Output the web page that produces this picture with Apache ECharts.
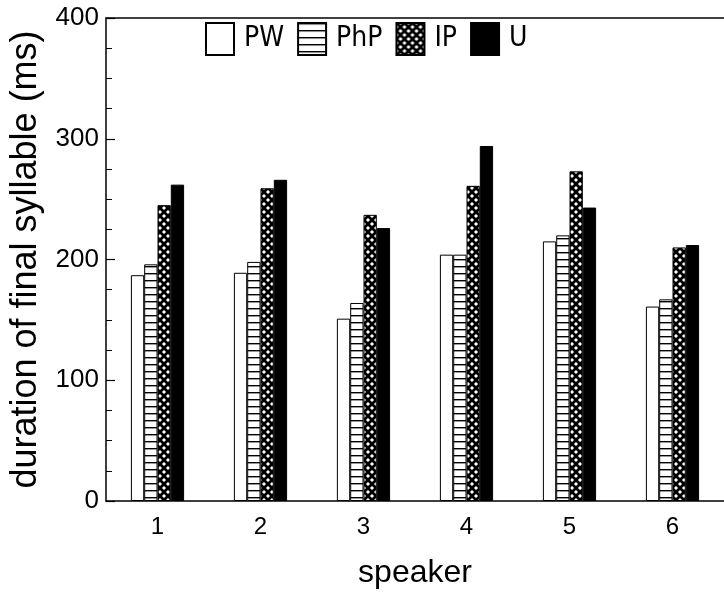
<!DOCTYPE html>
<html>
<head>
<meta charset="utf-8">
<title>duration of final syllable</title>
<script src="https://cdn.jsdelivr.net/npm/echarts@6/dist/echarts.min.js"></script>
<style>
    html, body { margin: 0; padding: 0; background: #fff; }
    #bar_show { width: 724px; height: 596px; }
</style>
</head>
<body>
<div id="bar_show"></div>
<script>
// 数据
var speakers = ['1', '2', '3', '4', '5', '6'];
var pwData = [187, 189, 151, 204, 215, 161];
var phpData = [196, 198, 164, 204, 220, 167];
var ipData = [245, 259, 237, 261, 273, 210];
var uData = [262, 266, 226, 294, 243, 212];
var yTicks = [0, 100, 200, 300, 400];

// 横线填充
function stripePattern() {
    var c = document.createElement('canvas');
    c.width = 8;
    c.height = 7;
    var ctx = c.getContext('2d');
    ctx.fillStyle = '#fff';
    ctx.fillRect(0, 0, 8, 7);
    ctx.fillStyle = '#000';
    ctx.fillRect(0, 0, 8, 1.4);
    return { image: c, repeat: 'repeat' };
}

// 交叉网格填充
function crossPattern() {
    var c = document.createElement('canvas');
    c.width = 8;
    c.height = 8;
    var ctx = c.getContext('2d');
    ctx.fillStyle = '#fff';
    ctx.fillRect(0, 0, 8, 8);
    ctx.strokeStyle = '#000';
    ctx.lineWidth = 2.8;
    ctx.beginPath();
    ctx.moveTo(-1, -1); ctx.lineTo(9, 9);
    ctx.moveTo(9, -1); ctx.lineTo(-1, 9);
    ctx.stroke();
    return { image: c, repeat: 'repeat' };
}

var font = '"Liberation Sans", Arial, Helvetica, sans-serif';
var narrow = '"DejaVu Sans Condensed", "Liberation Sans", sans-serif';

var oBar = echarts.init(document.getElementById('bar_show'), null, { renderer: 'canvas' });

var barStyle = {
    borderColor: '#000',
    borderWidth: 1
};

var oBaropt = {
    animation: false,
    backgroundColor: '#fff',
    textStyle: { fontFamily: font, color: '#000' },
    legend: {
        left: 205,
        top: 22,
        padding: 0,
        itemWidth: 28,
        itemHeight: 32,
        itemGap: 13,
        icon: 'rect',
        textStyle: {
            fontFamily: narrow,
            fontSize: 28,
            color: '#000',
            padding: [0, 0, 0, 5]
        },
        data: ['PW', 'PhP', 'IP', 'U']
    },
    grid: {
        left: 101,
        right: -3,
        top: 18,
        bottom: 95,
        containLabel: false
    },
    xAxis: [{
        type: 'category',
        data: speakers,
        name: 'speaker',
        nameLocation: 'middle',
        nameGap: 56,
        nameTextStyle: { fontSize: 32, color: '#000', fontFamily: font },
        axisLine: { lineStyle: { color: '#000', width: 1.5 } },
        axisTick: { show: false },
        axisLabel: { fontSize: 24, color: '#000', margin: 14, fontFamily: font }
    }, {
        type: 'category',
        data: speakers,
        position: 'top',
        axisLine: { show: true, lineStyle: { color: '#000', width: 1.5 } },
        axisTick: { show: false },
        axisLabel: { show: false }
    }],
    yAxis: [{
        type: 'value',
        min: yTicks[0],
        max: yTicks[yTicks.length - 1],
        interval: 100,
        name: 'duration of final syllable (ms)',
        nameLocation: 'middle',
        nameGap: 62,
        nameTextStyle: { fontSize: 36, color: '#000', fontFamily: font },
        axisLine: { show: true, lineStyle: { color: '#000', width: 1.5 } },
        axisTick: { show: true, inside: true, length: 9, lineStyle: { color: '#000', width: 1.2 } },
        minorTick: { show: true, splitNumber: 4, length: 6, lineStyle: { color: '#000', width: 1 } },
        splitLine: { show: false },
        axisLabel: { fontSize: 26, color: '#000', margin: 7, fontFamily: font }
    }],
    series: [
        {
            name: 'PW',
            type: 'bar',
            barWidth: 13.3,
            barGap: '0%',
            itemStyle: Object.assign({ color: '#fff' }, barStyle),
            data: pwData
        },
        {
            name: 'PhP',
            type: 'bar',
            barWidth: 13.3,
            barGap: '0%',
            itemStyle: Object.assign({ color: stripePattern() }, barStyle),
            data: phpData
        },
        {
            name: 'IP',
            type: 'bar',
            barWidth: 13.3,
            barGap: '0%',
            itemStyle: Object.assign({ color: crossPattern() }, barStyle),
            data: ipData
        },
        {
            name: 'U',
            type: 'bar',
            barWidth: 13.3,
            barGap: '0%',
            itemStyle: Object.assign({ color: '#000' }, barStyle),
            data: uData
        }
    ]
};

oBar.setOption(oBaropt);
</script>
</body>
</html>
